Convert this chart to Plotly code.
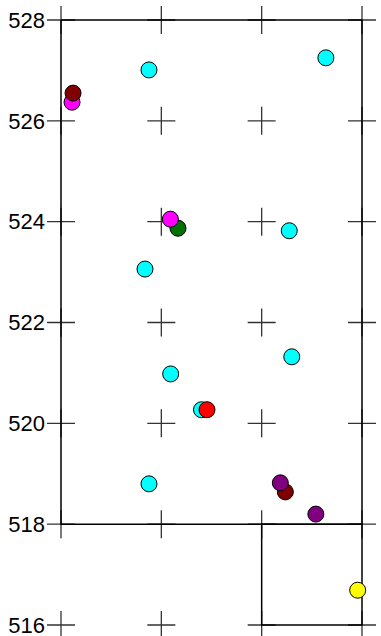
import plotly.graph_objects as go

# grid of plus markers
grid_x = [0, 1, 2, 3]
grid_y = [516, 518, 520, 522, 524, 526, 528]
y_ticks = [516, 518, 520, 522, 524, 526, 528]

# outline polygons
outer_x = [0, 3, 3, 0, 0]
outer_y = [528, 528, 518, 518, 528]
inner_x = [2, 3, 3, 2, 2]
inner_y = [518, 518, 516, 516, 518]

# points by colour
cyan_x = [0.877, 2.64, 2.275, 0.837, 2.30, 1.093, 1.40, 0.877]
cyan_y = [527.01, 527.25, 523.82, 523.06, 521.32, 520.98, 520.27, 518.80]
green_x = [1.166]
green_y = [523.87]
magenta_x = [0.11, 1.09]
magenta_y = [526.37, 524.05]
maroon_x = [0.12, 2.236]
maroon_y = [526.55, 518.64]
red_x = [1.455]
red_y = [520.27]
purple_x = [2.186, 2.54]
purple_y = [518.82, 518.20]
yellow_x = [2.957]
yellow_y = [516.69]

fig = go.Figure()

px_ = [gx for gy in grid_y for gx in grid_x]
py_ = [gy for gy in grid_y for gx in grid_x]
fig.add_trace(go.Scatter(x=px_, y=py_, mode="markers",
                         marker=dict(symbol="cross-thin", size=20,
                                     line=dict(color="#333333", width=1.3)),
                         hoverinfo="skip", showlegend=False, cliponaxis=False))
for xs, ys in [(outer_x, outer_y), (inner_x, inner_y)]:
    fig.add_trace(go.Scatter(x=xs, y=ys, mode="lines",
                             line=dict(color="black", width=1.5),
                             hoverinfo="skip", showlegend=False))

series = [
    (cyan_x, cyan_y, "#00FFFF"),
    (green_x, green_y, "#007000"),
    (magenta_x, magenta_y, "#FF00FF"),
    (maroon_x, maroon_y, "#800000"),
    (red_x, red_y, "#FF0000"),
    (purple_x, purple_y, "#800080"),
    (yellow_x, yellow_y, "#FFFF00"),
]
for xs, ys, c in series:
    fig.add_trace(go.Scatter(x=xs, y=ys, mode="markers",
                             marker=dict(size=16, color=c,
                                         line=dict(color="black", width=1)),
                             showlegend=False))

fig.update_layout(
    width=381, height=636,
    margin=dict(l=51, r=9, t=0, b=0, autoexpand=False),
    plot_bgcolor="white", paper_bgcolor="white",
    xaxis=dict(range=[-0.0997, 3.0997], visible=False, showgrid=False,
               zeroline=False, automargin=False),
    yaxis=dict(range=[515.782, 528.397], showgrid=False, zeroline=False,
               showline=False, tickvals=y_ticks, ticks="", automargin=False,
               ticklabelstandoff=5, ticklabeloverflow="allow",
               tickfont=dict(family="Liberation Sans, Arial", size=22,
                             color="black")),
    font=dict(family="Liberation Sans, Arial"),
)

fig.write_html("out.html", config={"displayModeBar": False},
               post_script="document.body.style.margin='0';document.body.style.overflow='hidden';")
